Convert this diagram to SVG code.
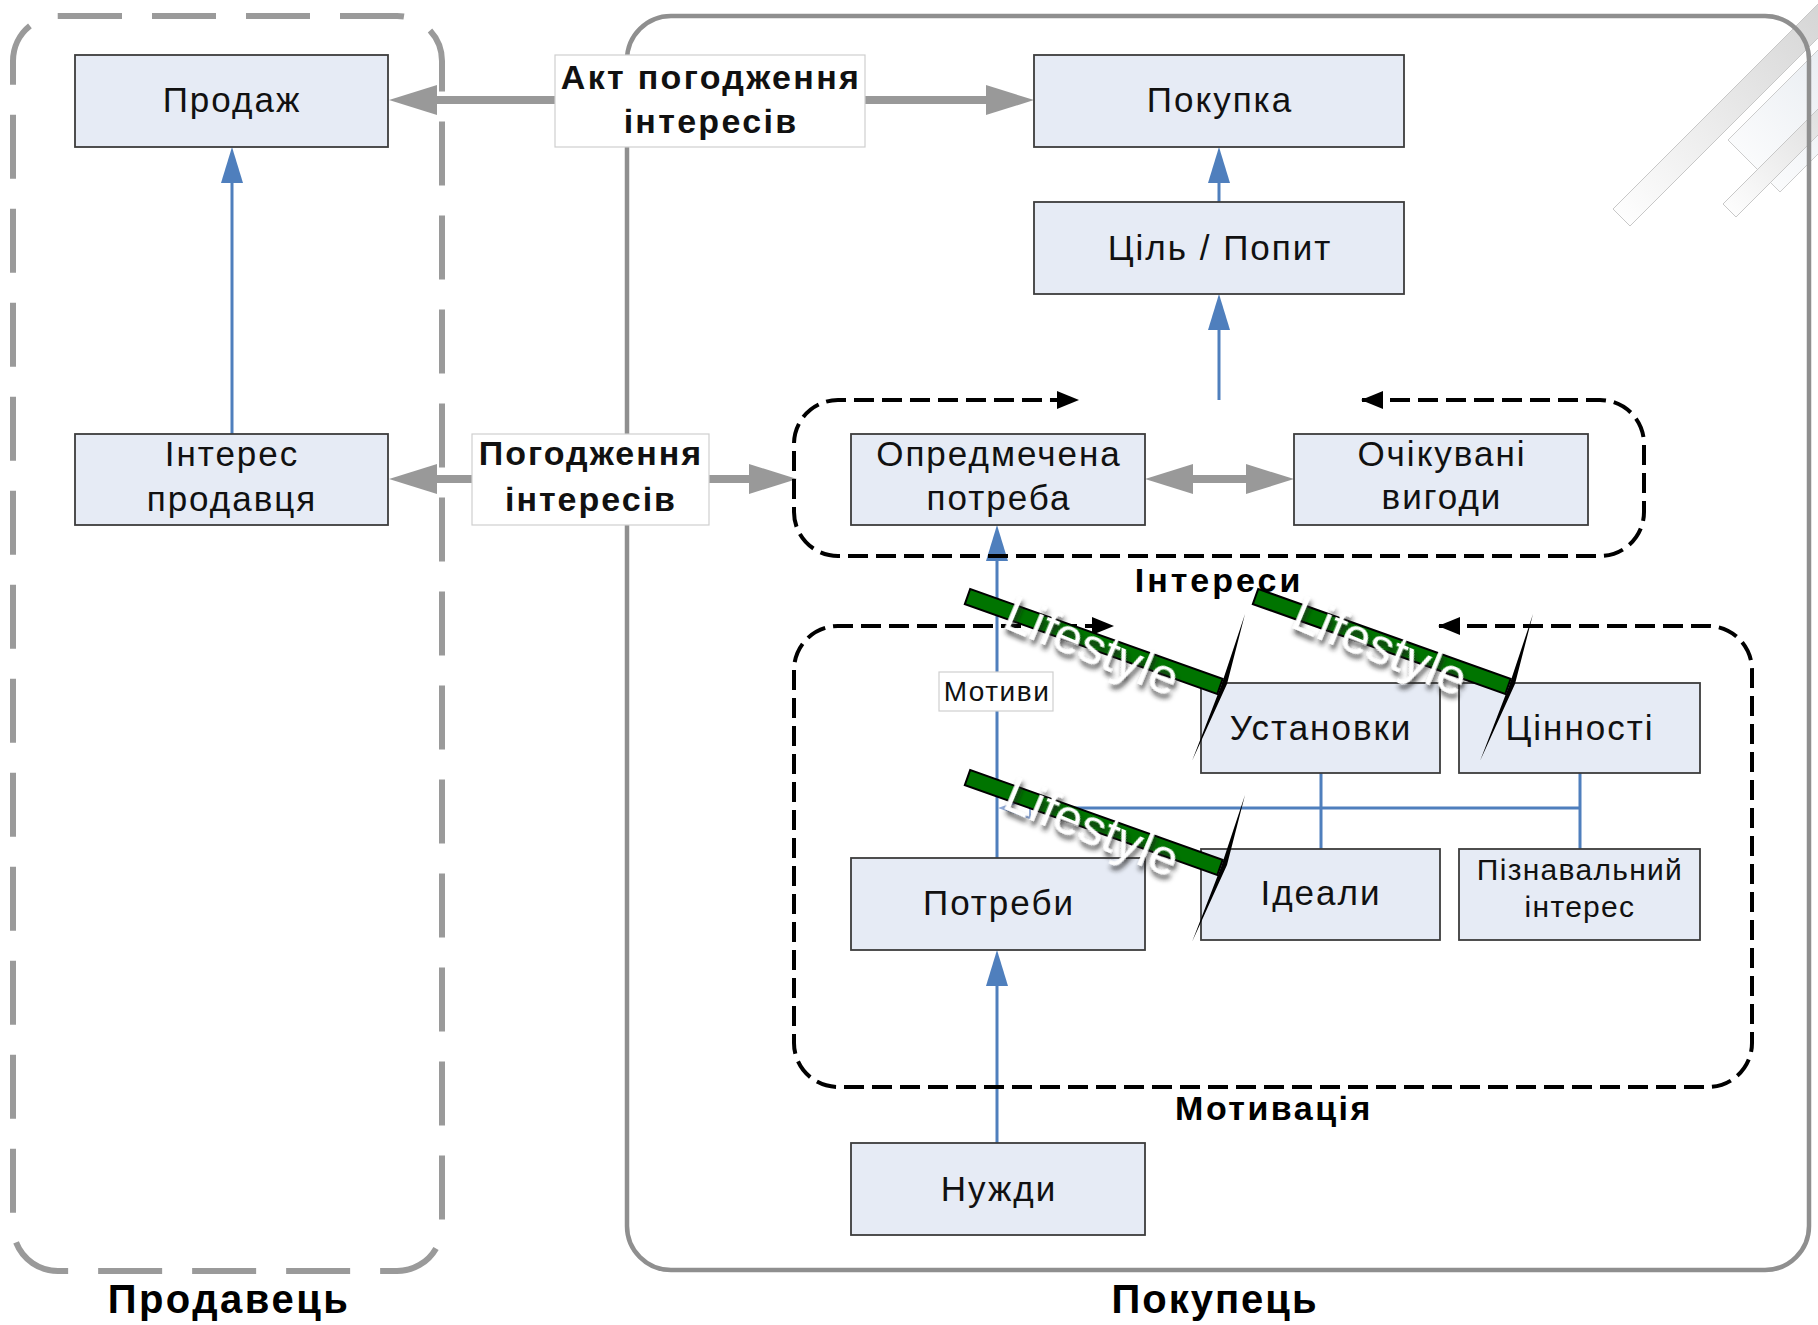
<svg xmlns="http://www.w3.org/2000/svg" width="1818" height="1325" viewBox="0 0 1818 1325">
<defs>
<style>
.node rect{fill:#e6ebf5;stroke:#3c3c3c;stroke-width:1.8}
.node text,.lbl text{font-family:"Liberation Sans",Arial,sans-serif;fill:#111}
.nt{font-size:35px;letter-spacing:2px;text-anchor:middle}
.bt{font-family:"Liberation Sans",Arial,sans-serif;font-weight:bold;fill:#000;text-anchor:middle}
.lbl rect{fill:#fff;stroke:#cfcfcf;stroke-width:1.2}
.gray{stroke:#999;stroke-width:8;fill:none}
.blue{stroke:#4f7fbd;stroke-width:3;fill:none}
.grp{stroke:#000;stroke-width:4;fill:none;stroke-dasharray:20 8}
.bar rect{fill:#007400;stroke:#000;stroke-width:2}
.bar text{font-family:"Liberation Sans",Arial,sans-serif;font-size:50px;fill:#fff;text-anchor:middle}
.bolt{fill:#000}
</style>
<marker id="gh" markerUnits="userSpaceOnUse" markerWidth="48" markerHeight="32" refX="0" refY="16" orient="auto-start-reverse" viewBox="0 0 48 32"><path d="M0,1 L48,16 L0,31 z" fill="#999"/></marker>
<marker id="bh" markerUnits="userSpaceOnUse" markerWidth="36" markerHeight="24" refX="0" refY="12" orient="auto" viewBox="0 0 36 24"><path d="M0,1 L36,12 L0,23 z" fill="#4f7fbd"/></marker>
<marker id="kh" markerUnits="userSpaceOnUse" markerWidth="22" markerHeight="20" refX="21" refY="10" orient="auto-start-reverse" viewBox="0 0 22 20"><path d="M0,1 L22,10 L0,19 z" fill="#000"/></marker>
<filter id="sh" x="-20%" y="-50%" width="140%" height="200%"><feDropShadow dx="3" dy="4" stdDeviation="2.6" flood-color="#222" flood-opacity="0.85"/></filter>
<linearGradient id="sg" x1="1" y1="0" x2="0" y2="1"><stop offset="0" stop-color="#cfcfcf"/><stop offset="1" stop-color="#ffffff"/></linearGradient>
<linearGradient id="sg2" x1="1" y1="0" x2="0" y2="1"><stop offset="0" stop-color="#e3e8ee"/><stop offset="1" stop-color="#ffffff"/></linearGradient>
</defs>
<rect width="1818" height="1325" fill="#fff"/>

<g id="decor">
<polygon points="1613,209 1630,226 1860,-4 1843,-21" fill="url(#sg)" stroke="#c8c8c8" stroke-width="1"/>
<polygon points="1728,140 1780,192 1880,92 1828,40" fill="url(#sg2)" stroke="#cccccc" stroke-width="1"/>
<polygon points="1723,204 1736,217 1880,73 1867,60" fill="url(#sg)" stroke="#c8c8c8" stroke-width="1"/>
</g>

<g id="buyer-area">
<rect x="627" y="16" width="1182" height="1254" rx="44" fill="none" stroke="#8f8f8f" stroke-width="4.5"/>
</g>

<g id="connectors">
<path class="gray" d="M437,100 L986,100" marker-start="url(#gh)" marker-end="url(#gh)"/>
<path class="gray" d="M437,479 L749,479" marker-start="url(#gh)" marker-end="url(#gh)"/>
<path class="gray" d="M1193,479 L1246,479" marker-start="url(#gh)" marker-end="url(#gh)"/>
<path class="blue" d="M232,434 L232,183" marker-end="url(#bh)"/>
<path class="blue" d="M1219,202 L1219,183" marker-end="url(#bh)"/>
<path class="blue" d="M1219,400 L1219,330" marker-end="url(#bh)"/>
<path class="blue" d="M997,858 L997,561" marker-end="url(#bh)"/>
<path class="blue" d="M997,1143 L997,986" marker-end="url(#bh)"/>
<path class="blue" d="M1321,773 L1321,849 M1580,773 L1580,849"/>
<path class="blue" d="M1580,808 L1030,808" stroke-width="4"/>
<polygon points="1030,798 1001,808 1030,818" fill="#fff" stroke="#8fa9d6" stroke-width="2"/>
</g>

<g id="seller-area">
<rect x="13" y="16" width="429" height="1255" rx="45" fill="none" stroke="#9a9a9a" stroke-width="6" stroke-dasharray="64 30"/>
</g>

<g id="group-interests">
<path class="grp" d="M1362,400 L1600,400 A44,44 0 0 1 1644,444 L1644,512 A44,44 0 0 1 1600,556 L838,556 A44,44 0 0 1 794,512 L794,444 A44,44 0 0 1 838,400 L1078,400" marker-start="url(#kh)" marker-end="url(#kh)"/>
<text class="bt" x="1219" y="592" font-size="34" letter-spacing="3">Інтереси</text>
</g>

<g id="group-motivation">
<path class="grp" d="M1439,626 L1708,626 A44,44 0 0 1 1752,670 L1752,1043 A44,44 0 0 1 1708,1087 L838,1087 A44,44 0 0 1 794,1043 L794,670 A44,44 0 0 1 838,626 L1113,626" marker-start="url(#kh)" marker-end="url(#kh)"/>
<text class="bt" x="1274" y="1120" font-size="34" letter-spacing="2.5">Мотивація</text>
</g>

<g id="label-act" class="lbl">
<rect x="555" y="55" width="310" height="92"/>
<text class="bt" x="711" y="89" font-size="34" letter-spacing="2.3">Акт погодження</text>
<text class="bt" x="711" y="133" font-size="34" letter-spacing="2.3">інтересів</text>
</g>
<g id="label-agree" class="lbl">
<rect x="472" y="434" width="237" height="91"/>
<text class="bt" x="591" y="465" font-size="34" letter-spacing="2">Погодження</text>
<text class="bt" x="591" y="511" font-size="34" letter-spacing="2">інтересів</text>
</g>
<g id="label-motives" class="lbl">
<rect x="939" y="672" width="114" height="39"/>
<text x="997" y="701" font-size="28" letter-spacing="1.5" text-anchor="middle">Мотиви</text>
</g>

<g id="n-prodazh" class="node"><rect x="75" y="55" width="313" height="92"/><text class="nt" x="232" y="112">Продаж</text></g>
<g id="n-interes-prodavtsia" class="node"><rect x="75" y="434" width="313" height="91"/><text class="nt" x="232" y="466">Інтерес</text><text class="nt" x="232" y="511">продавця</text></g>
<g id="n-pokupka" class="node"><rect x="1034" y="55" width="370" height="92"/><text class="nt" x="1220" y="112">Покупка</text></g>
<g id="n-tsil" class="node"><rect x="1034" y="202" width="370" height="92"/><text class="nt" x="1220" y="260">Ціль / Попит</text></g>
<g id="n-opredmechena" class="node"><rect x="851" y="434" width="294" height="91"/><text class="nt" x="999" y="466">Опредмечена</text><text class="nt" x="999" y="510">потреба</text></g>
<g id="n-ochikuvani" class="node"><rect x="1294" y="434" width="294" height="91"/><text class="nt" x="1442" y="466">Очікувані</text><text class="nt" x="1442" y="509">вигоди</text></g>
<g id="n-ustanovky" class="node"><rect x="1201" y="683" width="239" height="90"/><text class="nt" x="1321" y="740">Установки</text></g>
<g id="n-tsinnosti" class="node"><rect x="1459" y="683" width="241" height="90"/><text class="nt" x="1580" y="740">Цінності</text></g>
<g id="n-potreby" class="node"><rect x="851" y="858" width="294" height="92"/><text class="nt" x="999" y="915">Потреби</text></g>
<g id="n-idealy" class="node"><rect x="1201" y="849" width="239" height="91"/><text class="nt" x="1321" y="905">Ідеали</text></g>
<g id="n-piznavalnyi" class="node"><rect x="1459" y="849" width="241" height="91"/><text x="1580" y="880" font-size="30" letter-spacing="1.3" text-anchor="middle">Пізнавальний</text><text x="1580" y="917" font-size="30" letter-spacing="1.3" text-anchor="middle">інтерес</text></g>
<g id="n-nuzhdy" class="node"><rect x="851" y="1143" width="294" height="92"/><text class="nt" x="999" y="1201">Нужди</text></g>

<g id="lifestyle-1">
<g class="bar" transform="translate(967.5,596.5) rotate(19.6)"><rect x="0" y="-8" width="268" height="16"/><text x="134" y="22" transform="rotate(3 134 5)" filter="url(#sh)">Lifestyle</text></g>
<polygon class="bolt" points="1245,614 1227,684 1192,761 1221,686"/>
</g>
<g id="lifestyle-2">
<g class="bar" transform="translate(1255.5,596.5) rotate(19.6)"><rect x="0" y="-8" width="268" height="16"/><text x="134" y="22" transform="rotate(3 134 5)" filter="url(#sh)">Lifestyle</text></g>
<polygon class="bolt" points="1533,614 1515,684 1480,761 1509,686"/>
</g>
<g id="lifestyle-3">
<g class="bar" transform="translate(967.5,777.5) rotate(19.6)"><rect x="0" y="-8" width="268" height="16"/><text x="134" y="22" transform="rotate(3 134 5)" filter="url(#sh)">Lifestyle</text></g>
<polygon class="bolt" points="1245,795 1227,865 1192,942 1221,867"/>
</g>

<g id="titles">
<text class="bt" x="229" y="1313" font-size="40" letter-spacing="2.5">Продавець</text>
<text class="bt" x="1215" y="1313" font-size="40" letter-spacing="2">Покупець</text>
</g>
</svg>
